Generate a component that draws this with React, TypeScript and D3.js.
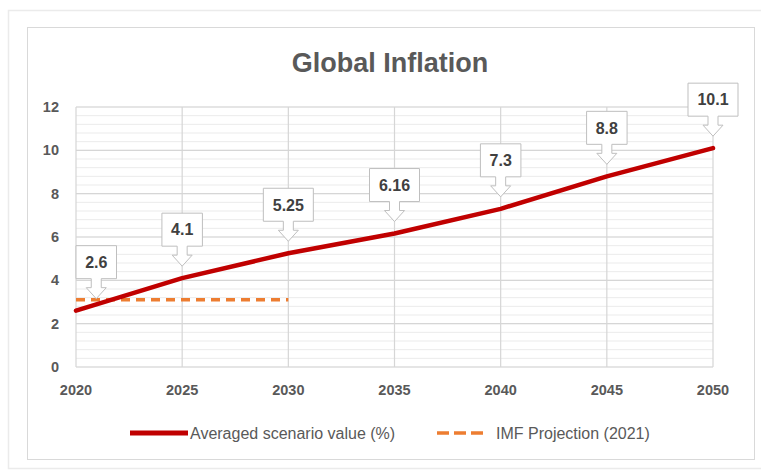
import React from "react";
import * as d3 from "d3";

const years = [2020, 2025, 2030, 2035, 2040, 2045, 2050];
const averaged = [2.6, 4.1, 5.25, 6.16, 7.3, 8.8, 10.1];
const imfYears = [2020, 2030];
const imfValues = [3.1, 3.1];
const yTicks = [0, 2, 4, 6, 8, 10, 12];
const title = "Global Inflation";
const seriesNames = ["Averaged scenario value (%)", "IMF Projection (2021)"];

const W = 761;
const H = 472;
const plot = { left: 76, right: 713, top: 107, bottom: 367 };
const FONT = "'Liberation Sans', Arial, sans-serif";

export default function App() {
  const x = d3.scaleLinear().domain([2020, 2050]).range([plot.left, plot.right]);
  const y = d3.scaleLinear().domain([0, 12]).range([plot.bottom, plot.top]);
  const minor = d3.range(0, 12.0001, 0.4);
  const line = d3.line<[number, number]>().x((d) => x(d[0])).y((d) => y(d[1]));
  const avgPath = line(years.map((yr, i) => [yr, averaged[i]]) as [number, number][]) || "";
  const imfPath = line(imfYears.map((yr, i) => [yr, imfValues[i]]) as [number, number][]) || "";

  const callouts = years.map((yr, i) => {
    const label = String(averaged[i]);
    const w = 12 + label.length * 9.5;
    const h = 33;
    let left = x(yr) - w / 2;
    if (left < plot.left) left = plot.left;
    if (left + w > W - 8) left = W - 8 - w;
    const cx = left + w / 2;
    const tip = y(averaged[i]) - 12;
    const bottom = tip - 20;
    const top = bottom - h;
    const sw = 5, hw = 10, sh = 9;
    const path = `M${left},${top}H${left + w}V${bottom}H${cx + sw}V${bottom + sh}H${cx + hw}L${cx},${tip}L${cx - hw},${bottom + sh}H${cx - sw}V${bottom}H${left}Z`;
    return { label, path, cx, cy: (top + bottom) / 2 };
  });

  return (
    <svg width={W} height={H} style={{ position: "absolute", left: 0, top: 0, background: "#fff" }}>
      <rect x={8.5} y={10.5} width={760} height={458} fill="#fff" stroke="#ebebeb" strokeWidth={1.5} />
      <rect x={27.5} y={27.5} width={727} height={432} fill="#fff" stroke="#d9d9d9" strokeWidth={1} />
      <text x={390} y={72} textAnchor="middle" fontFamily={FONT} fontWeight="bold" fontSize={27} fill="#595959">
        {title}
      </text>
      {minor.map((v, i) => (
        <line key={"m" + i} x1={plot.left} x2={plot.right} y1={y(v)} y2={y(v)} stroke="#ebebeb" strokeWidth={1} />
      ))}
      {yTicks.map((v) => (
        <line key={"g" + v} x1={plot.left} x2={plot.right} y1={y(v)} y2={y(v)} stroke="#d6d6d6" strokeWidth={1.2} />
      ))}
      {years.map((yr) => (
        <line key={"v" + yr} x1={x(yr)} x2={x(yr)} y1={plot.top} y2={plot.bottom} stroke="#d6d6d6" strokeWidth={1.2} />
      ))}
      {yTicks.map((v) => (
        <text key={"yt" + v} x={59} y={y(v)} dy="0.35em" textAnchor="end" fontFamily={FONT} fontWeight="bold" fontSize={14.5} fill="#595959">
          {v}
        </text>
      ))}
      {years.map((yr) => (
        <text key={"xt" + yr} x={x(yr)} y={390} dy="0.35em" textAnchor="middle" fontFamily={FONT} fontWeight="bold" fontSize={14.5} fill="#595959">
          {yr}
        </text>
      ))}
      <path d={imfPath} fill="none" stroke="#ED7D31" strokeWidth={3.5} strokeDasharray="9,6" />
      <path d={avgPath} fill="none" stroke="#C00000" strokeWidth={4.5} strokeLinejoin="round" strokeLinecap="round" />
      {callouts.map((c, i) => (
        <g key={"c" + i}>
          <path d={c.path} fill="#fff" stroke="#bfbfbf" strokeWidth={1} />
          <text x={c.cx} y={c.cy} dy="0.36em" textAnchor="middle" fontFamily={FONT} fontWeight="bold" fontSize={16} fill="#404040">
            {c.label}
          </text>
        </g>
      ))}
      <line x1={130} x2={188} y1={433} y2={433} stroke="#C00000" strokeWidth={5} />
      <text x={190} y={433} dy="0.35em" fontFamily={FONT} fontSize={16} fill="#595959">
        {seriesNames[0]}
      </text>
      <line x1={437} x2={483} y1={433} y2={433} stroke="#ED7D31" strokeWidth={3.5} strokeDasharray="12,5" />
      <text x={496} y={433} dy="0.35em" fontFamily={FONT} fontSize={16} fill="#595959">
        {seriesNames[1]}
      </text>
    </svg>
  );
}
